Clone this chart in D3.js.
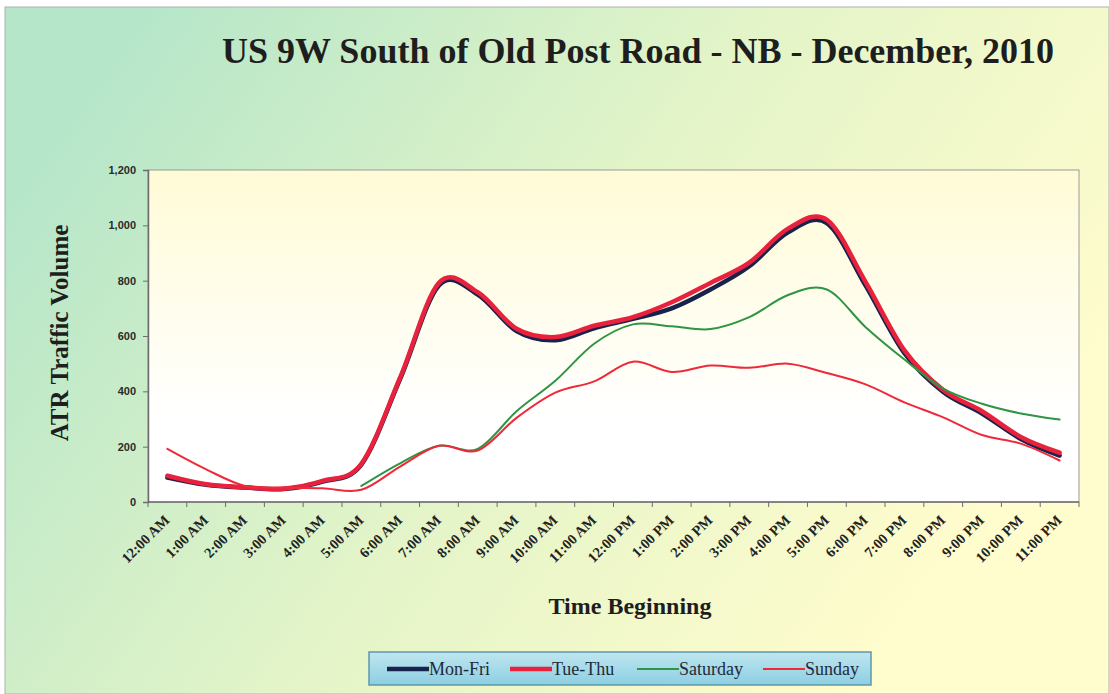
<!DOCTYPE html>
<html>
<head>
<meta charset="utf-8">
<script src="https://d3js.org/d3.v7.min.js"></script>
<style>
  body { margin: 0; background: #fff; }
  svg { display: block; }
</style>
</head>
<body>
<div id="chart"></div>
<script>
const width = 1109;
const height = 694;

const hours = ["12:00 AM", "1:00 AM", "2:00 AM", "3:00 AM", "4:00 AM", "5:00 AM", "6:00 AM",
  "7:00 AM", "8:00 AM", "9:00 AM", "10:00 AM", "11:00 AM", "12:00 PM", "1:00 PM", "2:00 PM",
  "3:00 PM", "4:00 PM", "5:00 PM", "6:00 PM", "7:00 PM", "8:00 PM", "9:00 PM", "10:00 PM", "11:00 PM"];

const monFri = [88, 62, 52, 47, 74, 135, 445, 783, 750, 618, 585, 628, 662, 700, 768, 852, 975, 1008, 782, 538, 398, 320, 228, 168];
const tueThu = [95, 64, 53, 48, 76, 138, 450, 792, 758, 626, 596, 637, 668, 722, 792, 865, 988, 1020, 795, 548, 405, 328, 235, 178];
const saturday = [null, null, null, null, null, 58, 140, 203, 192, 328, 438, 572, 642, 635, 625, 668, 748, 768, 632, 515, 410, 355, 320, 298];
const sunday = [192, 118, 58, 52, 50, 44, 128, 203, 186, 304, 395, 436, 507, 470, 493, 485, 500, 466, 425, 360, 306, 242, 211, 150];

const yTicks = [0, 200, 400, 600, 800, 1000, 1200];

const series = [
  { name: "Mon-Fri", values: monFri, color: "#17224d", width: 4.5 },
  { name: "Tue-Thu", values: tueThu, color: "#e8213c", width: 4.5 },
  { name: "Saturday", values: saturday, color: "#2f9544", width: 2 },
  { name: "Sunday", values: sunday, color: "#ee2a3a", width: 2 }
];

const svg = d3.select("#chart").append("svg")
  .attr("width", width).attr("height", height);

const defs = svg.append("defs");
const bg = defs.append("linearGradient").attr("id", "bg")
  .attr("x1", "0").attr("y1", "0.3").attr("x2", "0.9").attr("y2", "0.7");
bg.append("stop").attr("offset", "0").attr("stop-color", "#b6e6c9");
bg.append("stop").attr("offset", "0.5").attr("stop-color", "#e2f4c8");
bg.append("stop").attr("offset", "1").attr("stop-color", "#fffccd");

const plotBg = defs.append("linearGradient").attr("id", "plotbg")
  .attr("x1", "0").attr("y1", "0").attr("x2", "0").attr("y2", "1");
plotBg.append("stop").attr("offset", "0").attr("stop-color", "#fffbd6");
plotBg.append("stop").attr("offset", "0.75").attr("stop-color", "#ffffff");

const legBg = defs.append("linearGradient").attr("id", "legbg")
  .attr("x1", "0").attr("y1", "0").attr("x2", "0").attr("y2", "1");
legBg.append("stop").attr("offset", "0").attr("stop-color", "#bfe6ef");
legBg.append("stop").attr("offset", "1").attr("stop-color", "#8ccfe2");

// outer background
svg.append("rect")
  .attr("x", 5).attr("y", 7).attr("width", width - 5).attr("height", height - 7)
  .attr("fill", "url(#bg)")
  .attr("stroke", "#b0b0b0").attr("stroke-width", 1);

const margin = { left: 148, right: 1079, top: 170, bottom: 502 };

const x = d3.scaleBand().domain(hours).range([margin.left, margin.right]);
const cx = d => x(d) + x.bandwidth() / 2;
const y = d3.scaleLinear().domain([0, 1200]).range([margin.bottom, margin.top]);

// plot area
svg.append("rect")
  .attr("x", margin.left).attr("y", margin.top)
  .attr("width", margin.right - margin.left).attr("height", margin.bottom - margin.top)
  .attr("fill", "url(#plotbg)")
  .attr("stroke", "#9a9a9a").attr("stroke-width", 1);

// y axis
const yAxis = svg.append("g")
  .attr("transform", `translate(${margin.left},0)`)
  .call(d3.axisLeft(y).tickValues(yTicks).tickFormat(d3.format(",")).tickSize(5).tickPadding(7));
yAxis.select(".domain").attr("stroke", "#6d6d6d").attr("stroke-width", 1.5);
yAxis.selectAll(".tick line").attr("stroke", "#6d6d6d");
yAxis.selectAll("text")
  .attr("font-family", "'Liberation Sans', Arial, sans-serif")
  .attr("font-weight", "bold")
  .attr("font-size", "11px").attr("fill", "#2a2a2a");

// x axis line and boundary ticks
svg.append("line")
  .attr("x1", margin.left).attr("x2", margin.right)
  .attr("y1", margin.bottom).attr("y2", margin.bottom)
  .attr("stroke", "#6d6d6d").attr("stroke-width", 1.5);

const bounds = hours.map(h => x(h)).concat([margin.right]);
svg.selectAll(".xtick")
  .data(bounds)
  .enter().append("line")
  .attr("class", "xtick")
  .attr("x1", d => d).attr("x2", d => d)
  .attr("y1", margin.bottom).attr("y2", margin.bottom + 5)
  .attr("stroke", "#6d6d6d");

svg.selectAll(".xlabel")
  .data(hours)
  .enter().append("text")
  .attr("class", "xlabel")
  .attr("transform", d => `translate(${cx(d) + 3},${margin.bottom + 19}) rotate(-45)`)
  .attr("text-anchor", "end")
  .attr("font-family", "'Liberation Serif', 'Times New Roman', serif")
  .attr("font-weight", "bold")
  .attr("font-size", "14.5px")
  .attr("fill", "#222")
  .text(d => d);

// lines
const line = d3.line()
  .defined(d => d.v != null)
  .x(d => cx(d.h))
  .y(d => y(d.v))
  .curve(d3.curveCatmullRom.alpha(0));

svg.selectAll(".series")
  .data(series)
  .enter().append("path")
  .attr("class", "series")
  .attr("d", s => line(s.values.map((v, i) => ({ h: hours[i], v: v }))))
  .attr("fill", "none")
  .attr("stroke", s => s.color)
  .attr("stroke-width", s => s.width)
  .attr("stroke-linejoin", "round")
  .attr("stroke-linecap", "round");

// titles
svg.append("text")
  .attr("x", 638).attr("y", 63)
  .attr("text-anchor", "middle")
  .attr("font-family", "'Liberation Serif', 'Times New Roman', serif")
  .attr("font-weight", "bold").attr("font-size", "36px").attr("fill", "#1e1e1e")
  .text("US 9W South of Old Post Road - NB - December, 2010");

svg.append("text")
  .attr("transform", "translate(68,333) rotate(-90)")
  .attr("text-anchor", "middle")
  .attr("font-family", "'Liberation Serif', 'Times New Roman', serif")
  .attr("font-weight", "bold").attr("font-size", "25px").attr("fill", "#1e1e1e")
  .text("ATR Traffic Volume");

svg.append("text")
  .attr("x", 630).attr("y", 614)
  .attr("text-anchor", "middle")
  .attr("font-family", "'Liberation Serif', 'Times New Roman', serif")
  .attr("font-weight", "bold").attr("font-size", "24px").attr("fill", "#1e1e1e")
  .text("Time Beginning");

// legend
svg.append("rect")
  .attr("x", 369).attr("y", 652).attr("width", 502).attr("height", 33)
  .attr("fill", "url(#legbg)")
  .attr("stroke", "#5e98ad").attr("stroke-width", 1.5);

const legendX = [387, 510, 637, 763];
const leg = svg.selectAll(".leg")
  .data(series)
  .enter().append("g")
  .attr("class", "leg")
  .attr("transform", (d, i) => `translate(${legendX[i]},0)`);
leg.append("line")
  .attr("x1", 0).attr("x2", 42)
  .attr("y1", 669).attr("y2", 669)
  .attr("stroke", d => d.color)
  .attr("stroke-width", d => d.width);
leg.append("text")
  .attr("x", 42).attr("y", 675)
  .attr("font-family", "'Liberation Serif', 'Times New Roman', serif")
  .attr("font-size", "18px").attr("fill", "#1e2a3a")
  .text(d => d.name);
</script>
</body>
</html>
